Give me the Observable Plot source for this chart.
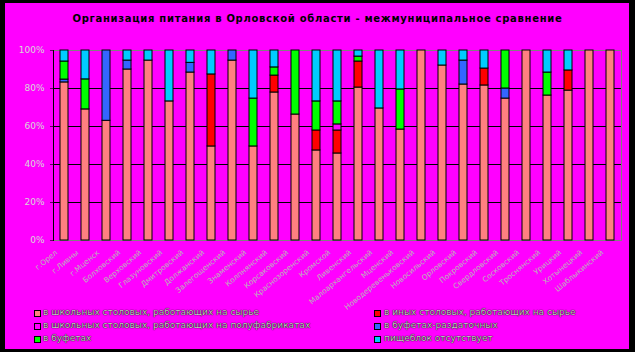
<!DOCTYPE html>
<html>
<head>
<meta charset="utf-8">
<script src="https://cdn.jsdelivr.net/npm/d3@7"></script>
<script src="https://cdn.jsdelivr.net/npm/@observablehq/plot@0.6"></script>
<style>
  html, body { margin: 0; padding: 0; background: #000; }
  #wrap { position: relative; width: 635px; height: 352px; background: #000; overflow: hidden; }
  #panel { position: absolute; left: 5px; top: 3px; width: 624px; height: 346px; background: #FF00FF; }
  #chart { position: absolute; left: 0; top: 0; }
  #title { position: absolute; left: 0; width: 635px; top: 13px; text-align: center;
           font: bold 10px "DejaVu Sans", sans-serif; letter-spacing: 0.7px; color: #000; }
  .lg { position: absolute; font: 9px "DejaVu Sans", sans-serif; color: #c8c8c8;
        text-shadow: 0 0 1px #000, 0 0 1px #000; white-space: nowrap; line-height: 11px; }
  .sw { position: absolute; width: 5px; height: 5px; border: 1px solid #000; }
</style>
</head>
<body>
<div id="wrap">
  <div id="panel"></div>
  <div id="chart"></div>
  <div id="title"></div>
</div>
<script>
const titleText = "Организация питания в Орловской области - межмуниципальное сравнение";

const categories = [
  "г.Орел", "г.Ливны", "г.Мценск", "Болховский", "Верховский", "Глазуновский",
  "Дмитровский", "Должанский", "Залегощенский", "Знаменский", "Колпнянский",
  "Корсаковский", "Краснозоренский", "Кромской", "Ливенский", "Малоархангельский",
  "Мценский", "Новодеревеньковский", "Новосильский", "Орловский", "Покровский",
  "Свердловский", "Сосковский", "Троснянский", "Урицкий", "Хотынецкий", "Шаблыкинский"
];

const seriesNames = [
  "в школьных столовых, работающих на сырье",
  "в иных столовых, работающих на сырье",
  "в школьных столовых, работающих на полуфабрикатах",
  "в буфетах-раздаточных",
  "в буфетах",
  "пищеблок отсутствует"
];

const seriesColors = ["#FF8080", "#FF0000", "#FF00FF", "#3366FF", "#00FF00", "#00CCFF"];

const legendOrder = [0, 1, 2, 3, 4, 5];

const schoolRaw   = [83.2, 69, 63, 90, 94.7, 73.2, 88.4, 49.5, 94.7, 49.5, 77.9, 66.3, 47.4, 45.8, 80.5, 69.5, 58.4, 100, 92.1, 82.1, 81.6, 74.7, 100, 76.3, 78.9, 100, 100];
const otherRaw    = [0, 0, 0, 0, 0, 0, 0, 37.9, 0, 0, 8.9, 0, 10.5, 12.1, 13.7, 0, 0, 0, 0, 0, 8.9, 0, 0, 0, 10.6, 0, 0];
const schoolSemi  = [0, 0, 0, 0, 0, 0, 0, 0, 0, 0, 0, 0, 0, 3.2, 0, 0, 0, 0, 0, 0, 0, 0, 0, 0, 0, 0, 0];
const dispensing  = [1.5, 0, 37, 4.7, 0, 0, 5.1, 0, 5.3, 0, 0, 0, 0, 0, 0, 0, 0, 0, 0, 12.6, 0, 5.3, 0, 0, 0, 0, 0];
const buffets     = [9.5, 15.8, 0, 0, 0, 0, 0, 0, 0, 25.2, 4.3, 33.7, 15.3, 12.1, 2.6, 0, 21.1, 0, 0, 0, 0, 20, 0, 12.1, 0, 0, 0];
const noKitchen   = [5.8, 15.2, 0, 5.3, 5.3, 26.8, 6.5, 12.6, 0, 25.3, 8.9, 0, 26.8, 26.8, 3.2, 30.5, 20.5, 0, 7.9, 5.3, 9.5, 0, 0, 11.6, 10.5, 0, 0];

const yTicks = [0, 20, 40, 60, 80, 100];
const gridLevels = [20, 40, 60, 80];

const seriesValues = [schoolRaw, otherRaw, schoolSemi, dispensing, buffets, noKitchen];
const data = [];
categories.forEach((c, i) => {
  seriesValues.forEach((arr, s) => {
    if (arr[i] > 0) data.push({cat: c, series: seriesNames[s], value: arr[i]});
  });
});

const chart = Plot.plot({
  width: 635,
  height: 352,
  marginTop: 50,
  marginBottom: 112,
  marginLeft: 53,
  marginRight: 14,
  style: {background: "transparent", fontFamily: "DejaVu Sans, sans-serif"},
  x: {domain: categories, paddingInner: 0.6, paddingOuter: 0.3, axis: null, label: null},
  y: {domain: [0, 100], axis: null, label: null},
  color: {domain: seriesNames, range: seriesColors},
  marks: [
    Plot.ruleY(gridLevels, {stroke: "#000", strokeWidth: 1}),
    Plot.ruleY([0, 100], {stroke: "#808080", strokeWidth: 1}),
    Plot.frame({anchor: "right", stroke: "#808080"}),
    Plot.barY(data, {x: "cat", y: "value", fill: "series", stroke: "#000", strokeWidth: 1, order: seriesNames}),
    Plot.frame({anchor: "left", stroke: "#000"}),
    Plot.axisY({ticks: yTicks, tickSize: 3, tickPadding: 6, tickFormat: d => d + "%", label: null,
      fontSize: 9, fill: "#d8d8d8", stroke: "#000", strokeWidth: 0.6, paintOrder: "stroke",
      letterSpacing: "0.5px"}),
    Plot.axisX({tickSize: 0, tickPadding: 11, tickRotate: -40, dx: -8, fontSize: 7.5, label: null,
      fill: "#b8b8b8", stroke: "#000", strokeWidth: 0.5, paintOrder: "stroke"})
  ]
});
chart.querySelectorAll("[aria-label='y-axis tick']").forEach(e => e.setAttribute("stroke", "#000"));
document.getElementById("chart").appendChild(chart);
document.getElementById("title").textContent = titleText;

const wrap = document.getElementById("wrap");
const rowsY = [313, 326, 339];
const colSwX = [34, 374];
const colTxtX = [43, 384];
legendOrder.forEach((s, k) => {
  const col = k % 2, row = Math.floor(k / 2);
  const sw = document.createElement("div");
  sw.className = "sw";
  sw.style.left = colSwX[col] + "px";
  sw.style.top = (rowsY[row] - 3) + "px";
  sw.style.background = seriesColors[s];
  wrap.appendChild(sw);
  const t = document.createElement("div");
  t.className = "lg";
  t.style.left = colTxtX[col] + "px";
  t.style.top = (rowsY[row] - 6) + "px";
  t.textContent = seriesNames[s];
  wrap.appendChild(t);
});
</script>
</body>
</html>
